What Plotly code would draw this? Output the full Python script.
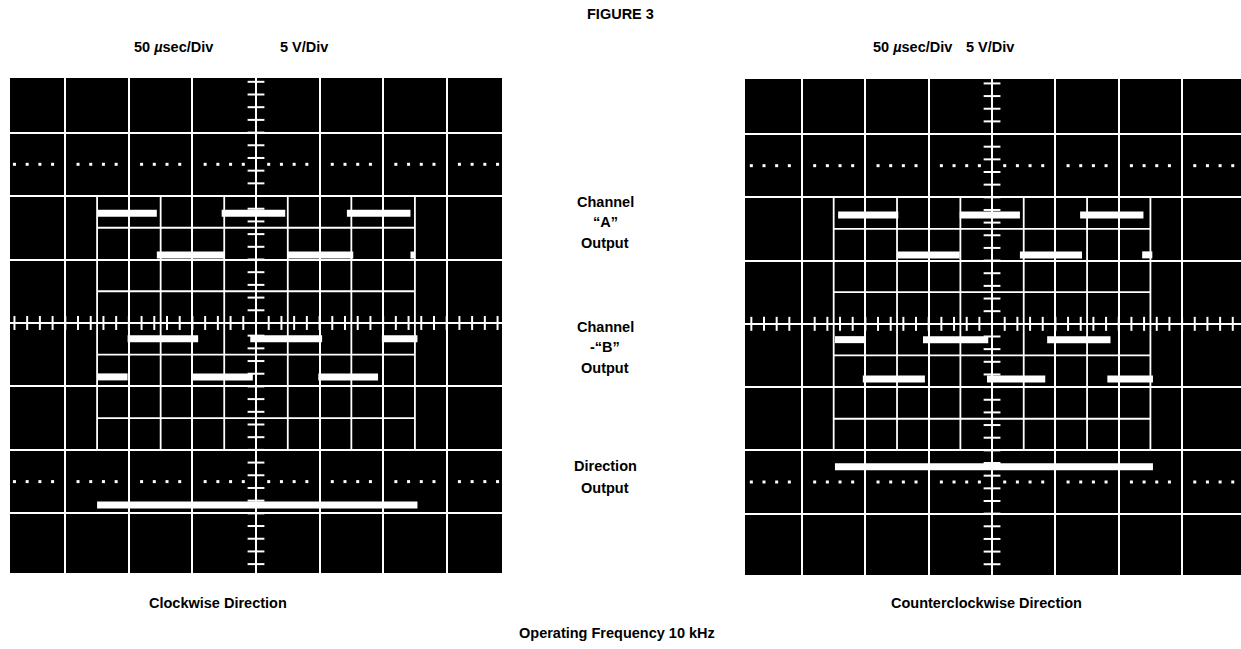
import numpy as np
import plotly.graph_objects as go

W, H = 1241, 649

# ---------------- data (screen divisions) ----------------
# Clockwise screen
CW_A_X0 = [-2.50, -1.56, -0.54, 0.49, 1.43, 2.43]
CW_A_X1 = [-1.56, -0.49, 0.46, 1.53, 2.43, 2.50]
CW_A_Y = [1.73, 1.07, 1.73, 1.07, 1.73, 1.07]
CW_B_X0 = [-2.50, -2.02, -1.00, -0.09, 0.98, 1.98]
CW_B_X1 = [-2.02, -0.91, -0.05, 1.04, 1.92, 2.54]
CW_B_Y = [-0.85, -0.25, -0.85, -0.25, -0.85, -0.25]
CW_DIR_X0 = [-2.50]
CW_DIR_X1 = [2.54]
CW_DIR_Y = [-2.87]

# Counterclockwise screen
CCW_A_X0 = [-2.43, -1.50, -0.51, 0.44, 1.39, 2.37]
CCW_A_X1 = [-1.48, -0.51, 0.44, 1.42, 2.39, 2.53]
CCW_A_Y = [1.72, 1.09, 1.72, 1.09, 1.72, 1.09]
CCW_B_X0 = [-2.48, -2.04, -1.09, -0.08, 0.87, 1.82]
CCW_B_X1 = [-2.00, -1.06, -0.06, 0.84, 1.87, 2.54]
CCW_B_Y = [-0.25, -0.87, -0.25, -0.87, -0.25, -0.87]
CCW_DIR_X0 = [-2.48]
CCW_DIR_X1 = [2.54]
CCW_DIR_Y = [-2.26]

# overlay half-division grid of the trace window
HALF_VX = [-2.5, -1.5, -0.5, 0.5, 1.5, 2.5]
HALF_VY_SPAN = [-2.0, 2.0]
HALF_HY = [-1.5, -0.5, 0.5, 1.5]
HALF_HX_SPAN = [-2.5, 2.5]
DOTTED_Y = [2.5, -2.5]

TITLE = "FIGURE 3"
SCALE_TIME = "50 <i>µ</i>sec/Div"
SCALE_VOLT = "5 V/Div"
CAPTIONS = ["Clockwise Direction", "Counterclockwise Direction"]
FOOTER = "Operating Frequency 10 kHz"
MID_LABELS = [("Channel", 202), ("“A”", 222), ("Output", 243),
              ("Channel", 327), ("-“B”", 347), ("Output", 368),
              ("Direction", 466), ("Output", 488)]

FONT = "Liberation Sans, Arial, sans-serif"


def segs(x0s, x1s, ys):
    xs, yv = [], []
    for a, b, y in zip(x0s, x1s, ys):
        xs += [a, b, None]
        yv += [y, y, None]
    return xs, yv


fig = go.Figure()

screens = [
    dict(xa="x", ya="y", A=(CW_A_X0, CW_A_X1, CW_A_Y), B=(CW_B_X0, CW_B_X1, CW_B_Y),
         D=(CW_DIR_X0, CW_DIR_X1, CW_DIR_Y), xr=[-3.87, 3.87]),
    dict(xa="x2", ya="y2", A=(CCW_A_X0, CCW_A_X1, CCW_A_Y), B=(CCW_B_X0, CCW_B_X1, CCW_B_Y),
         D=(CCW_DIR_X0, CCW_DIR_X1, CCW_DIR_Y), xr=[-3.90, 3.93]),
]

for s in screens:
    xa, ya = s["xa"], s["ya"]
    # half-division overlay grid
    gx, gy = [], []
    for x in HALF_VX:
        gx += [x, x, None]
        gy += [HALF_VY_SPAN[0], HALF_VY_SPAN[1], None]
    for y in HALF_HY:
        gx += [HALF_HX_SPAN[0], HALF_HX_SPAN[1], None]
        gy += [y, y, None]
    fig.add_trace(go.Scatter(x=gx, y=gy, mode="lines", xaxis=xa, yaxis=ya,
                             line=dict(color="white", width=1.8), hoverinfo="skip"))
    # dotted lines
    fine = np.round(np.arange(-3.8, 3.81, 0.2), 2)
    dots = [v for v in fine if abs(v - round(v)) > 1e-6]
    dx, dy = [], []
    for y in DOTTED_Y:
        dx += dots
        dy += [y] * len(dots)
    fig.add_trace(go.Scatter(x=dx, y=dy, mode="markers", xaxis=xa, yaxis=ya,
                             marker=dict(symbol="square", size=3, color="white"),
                             hoverinfo="skip"))
    # centre-line ticks
    tk = [v for v in fine if abs(v) > 1e-6]
    fig.add_trace(go.Scatter(x=tk, y=[0] * len(tk), mode="markers", xaxis=xa, yaxis=ya,
                             marker=dict(symbol="line-ns", size=10,
                                         line=dict(color="white", width=2)),
                             hoverinfo="skip"))
    fig.add_trace(go.Scatter(x=[0] * len(tk), y=tk, mode="markers", xaxis=xa, yaxis=ya,
                             marker=dict(symbol="line-ew", size=12,
                                         line=dict(color="white", width=2)),
                             hoverinfo="skip"))
    # signal traces
    for key in ("A", "B", "D"):
        x, y = segs(*s[key])
        fig.add_trace(go.Scatter(x=x, y=y, mode="lines", xaxis=xa, yaxis=ya,
                                 line=dict(color="white", width=7), hoverinfo="skip"))

axis_common = dict(showgrid=True, gridcolor="white", gridwidth=2.2, dtick=1, tick0=0,
                   zeroline=True, zerolinecolor="white", zerolinewidth=2.2,
                   showticklabels=False, ticks="", showline=False, fixedrange=True)

fig.update_layout(
    width=W, height=H, margin=dict(l=0, r=0, t=0, b=0),
    paper_bgcolor="white", plot_bgcolor="black", showlegend=False,
    xaxis=dict(domain=[10 / W, 502 / W], range=screens[0]["xr"], anchor="y", **axis_common),
    yaxis=dict(domain=[1 - 573 / H, 1 - 78 / H], range=[-3.94, 3.86], anchor="x", **axis_common),
    xaxis2=dict(domain=[745 / W, 1.0], range=screens[1]["xr"], anchor="y2", **axis_common),
    yaxis2=dict(domain=[1 - 575 / H, 1 - 79 / H], range=[-3.97, 3.87], anchor="x2", **axis_common),
)


def ann(text, px, py, size=14.5):
    fig.add_annotation(text="<b>%s</b>" % text, x=px / W, y=1 - py / H, xref="paper",
                       yref="paper", showarrow=False, xanchor="center", yanchor="middle",
                       font=dict(family=FONT, size=size, color="black"))


ann(TITLE, 620, 14)
ann(SCALE_TIME, 173, 47)
ann(SCALE_VOLT, 304, 47)
ann(SCALE_TIME, 912, 47)
ann(SCALE_VOLT, 990, 47)
for t, py in MID_LABELS:
    ann(t, 605, py)
ann(CAPTIONS[0], 218, 603)
ann(CAPTIONS[1], 986, 603)
ann(FOOTER, 617, 633)

fig.write_html("out.html", config={"displayModeBar": False},
               post_script="document.body.style.margin='0';")
